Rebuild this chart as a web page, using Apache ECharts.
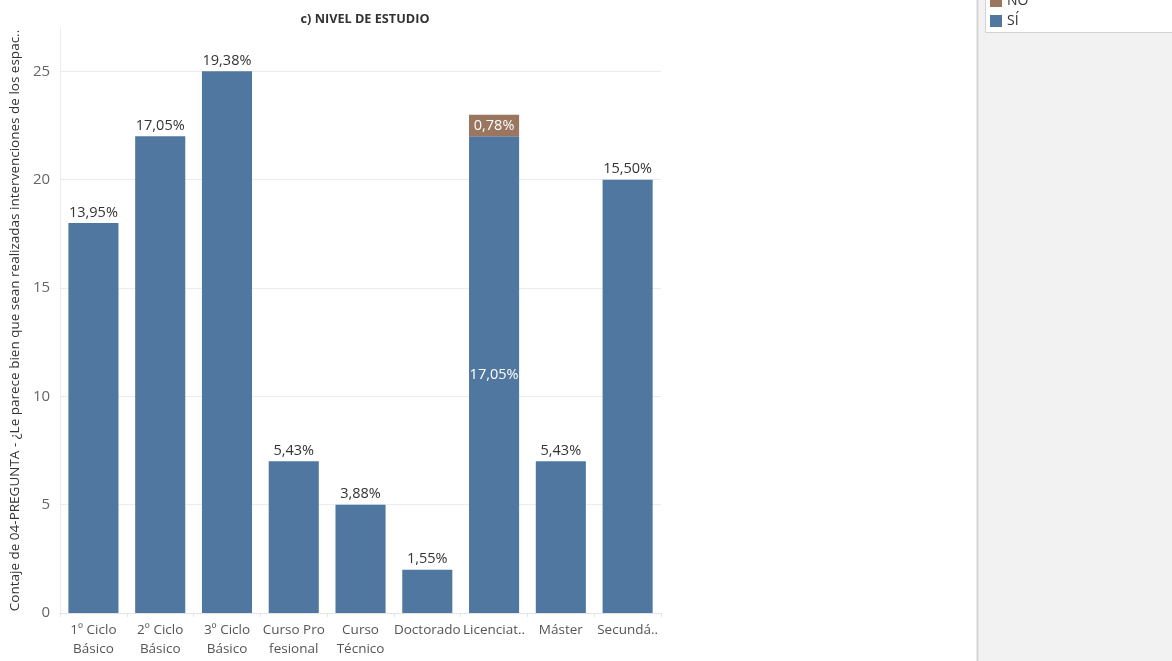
<!DOCTYPE html>
<html><head><meta charset="utf-8">
<script src="https://cdn.jsdelivr.net/npm/echarts@6/dist/echarts.min.js"></script>
<style>html,body{margin:0;padding:0;background:#fff}#c{width:1172px;height:661px}</style>
</head><body><div id="c"></div>
<script>
const categories = ['1º Ciclo\nBásico','2º Ciclo\nBásico','3º Ciclo\nBásico','Curso Pro\nfesional','Curso\nTécnico','Doctorado','Licenciat..','Máster','Secundá..'];
const siValues = [18, 22, 25, 7, 5, 2, 22, 7, 20];
const noValues = [null, null, null, null, null, null, 1, null, null];
const yTicks = [0, 5, 10, 15, 20, 25];
const insideSi = 6; // Licenciatura: SÍ label drawn inside

const total = siValues.reduce((a,b)=>a+(b||0),0) + noValues.reduce((a,b)=>a+(b||0),0);
const pct = v => (v/total*100).toFixed(2).replace('.', ',') + '%';

const FONT = '"Open Sans", sans-serif';
const G = '#ececec';
const chart = echarts.init(document.getElementById('c'), null, {renderer:'canvas'});
chart.setOption({
  animation:false,
  textStyle:{fontFamily:FONT},
  title:{text:'c) NIVEL DE ESTUDIO', left:360, textAlign:'center', top:8,
    textStyle:{fontSize:12.7, fontWeight:'bold', color:'#333', fontFamily:FONT}},
  graphic:[
    {type:'rect', shape:{x:977, y:0, width:195, height:661}, style:{fill:'#f2f2f2'}, z:-1},
    {type:'line', shape:{x1:977.5, y1:0, x2:977.5, y2:661}, style:{stroke:'#d6d6d6', lineWidth:2}},
    {type:'rect', shape:{x:985.5, y:-5, width:190, height:37.5}, style:{fill:'#fff', stroke:'#d2d2d2', lineWidth:1}}
  ],
  legend:{data:['NO','SÍ'], orient:'vertical', left:990, top:-6, itemWidth:12, itemHeight:12, itemGap:6,
    icon:'rect', textStyle:{fontSize:14, color:'#333', fontFamily:FONT}, padding:0},
  grid:{left:59, right:511, top:28, bottom:48, containLabel:false},
  xAxis:{type:'category', data:categories,
    axisLine:{lineStyle:{color:'#e4e4e4'}}, axisTick:{show:true, lineStyle:{color:'#e4e4e4'}, length:4},
    axisLabel:{color:'#555', fontSize:13.5, margin:8, lineHeight:19, interval:0, fontFamily:FONT}},
  yAxis:{type:'value', min:0, max:27, interval:5,
    name:'Contaje de 04-PREGUNTA - ¿Le parece bien que sean realizadas intervenciones de los espac..',
    nameLocation:'middle', nameGap:31, nameTextStyle:{fontSize:13.5, color:'#333', fontFamily:FONT},
    axisLine:{show:true, lineStyle:{color:'#ececec'}}, axisTick:{show:false},
    axisLabel:{color:'#666', fontSize:15, margin:10, showMaxLabel:false, fontFamily:FONT,
      formatter:v => yTicks.includes(v) ? String(v) : ''},
    splitLine:{lineStyle:{color:[G,G,G,G,G,G,'rgba(0,0,0,0)']}}},
  series:[
    {name:'SÍ', type:'bar', stack:'a', barWidth:'75%', itemStyle:{color:'#50779f'},
      data: siValues.map((v,i)=> i===insideSi
        ? {value:v, label:{position:'inside', color:'#fff'}}
        : v),
      label:{show:true, position:'top', distance:3, color:'#333', fontSize:14.5, fontFamily:FONT,
        formatter:p => pct(p.value)}},
    {name:'NO', type:'bar', stack:'a', barWidth:'75%', itemStyle:{color:'#9a7560'},
      data: noValues,
      label:{show:true, position:'inside', color:'#fff', fontSize:14.5, fontFamily:FONT,
        formatter:p => pct(p.value)}}
  ]
});
</script></body></html>
